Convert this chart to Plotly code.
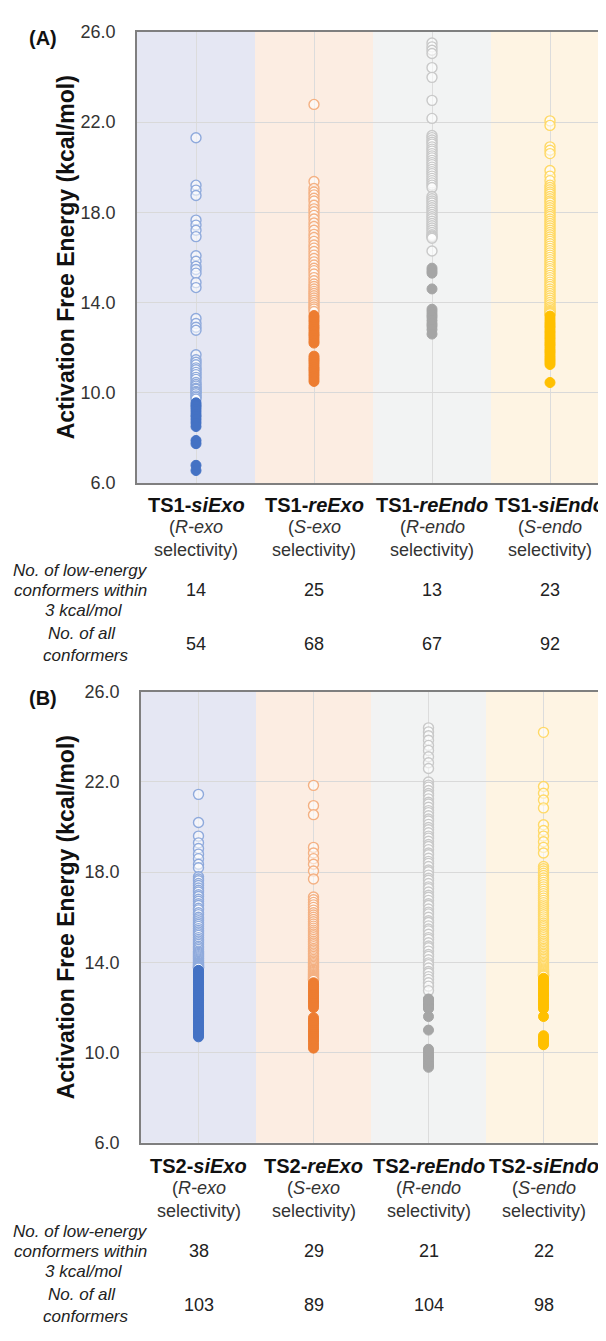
import plotly.graph_objects as go

# ---------------- data ----------------
categories_A = ["TS1-siExo", "TS1-reExo", "TS1-reEndo", "TS1-siEndo"]
categories_B = ["TS2-siExo", "TS2-reExo", "TS2-reEndo", "TS2-siEndo"]
selectivity = ["R-exo", "S-exo", "R-endo", "S-endo"]

low_counts_A = [14, 25, 13, 23]
all_counts_A = [54, 68, 67, 92]
low_counts_B = [38, 29, 21, 22]
all_counts_B = [103, 89, 104, 98]

y_ticks = [6.0, 10.0, 14.0, 18.0, 22.0, 26.0]

# Panel A (TS1) - filled = within 3 kcal/mol, open = others
A_siExo_low = [9.55, 9.45, 9.38, 9.27, 9.15, 9.02, 8.93, 8.8, 8.66, 8.5, 7.88, 7.74, 6.78, 6.55]
A_siExo_high = [21.3, 19.2, 18.98, 18.74, 17.65, 17.43, 17.2, 16.92, 16.07, 15.83, 15.6, 15.46,
                15.3, 14.88, 14.66, 13.29, 13.07, 12.9, 12.77, 11.68, 11.46, 11.35, 11.24, 11.1,
                11.02, 10.9, 10.8, 10.68, 10.59, 10.45, 10.36, 10.29, 10.2, 10.15, 10.06, 10.02,
                9.95, 9.86, 9.8, 9.72]
A_reExo_low = [13.42, 13.33, 13.22, 13.12, 13.0, 12.9, 12.81, 12.7, 12.6, 12.52, 12.41, 12.3, 12.2,
               11.62, 11.52, 11.44, 11.35, 11.25, 11.14, 11.05, 10.96, 10.85, 10.74, 10.62, 10.5]
A_reExo_high = [22.78, 19.36, 19.05, 18.9, 18.77, 18.62, 18.5, 18.31, 18.15, 18.02, 17.86, 17.7,
                17.52, 17.37, 17.2, 17.02, 16.88, 16.71, 16.55, 16.41, 16.26, 16.1, 15.95, 15.8,
                15.66, 15.52, 15.41, 15.26, 15.1, 14.96, 14.82, 14.71, 14.6, 14.49, 14.4, 14.3,
                14.2, 14.1, 14.0, 13.9, 13.8, 13.71, 13.6]
A_reEndo_low = [15.52, 15.41, 15.3, 14.6, 13.7, 13.58, 13.45, 13.34, 13.2, 13.06, 12.95, 12.8, 12.6]
A_reEndo_high = [25.5, 25.33, 25.18, 25.04, 24.41, 23.98, 22.96, 22.16, 21.4, 21.31, 21.2, 21.1,
                 21.02, 20.9, 20.8, 20.71, 20.6, 20.5, 20.41, 20.3, 20.2, 20.11, 20.0, 19.9, 19.8,
                 19.71, 19.6, 19.5, 19.4, 19.3, 19.2, 19.1, 18.7, 18.6, 18.5, 18.41, 18.3, 18.2,
                 18.1, 18.0, 17.9, 17.8, 17.71, 17.6, 17.5, 17.4, 17.3, 17.2, 17.1, 17.0, 16.95,
                 16.9, 16.85, 16.28]
A_siEndo_low = [13.4, 13.27, 13.15, 13.05, 12.95, 12.86, 12.75, 12.66, 12.55, 12.45, 12.36, 12.25,
                12.15, 12.06, 11.95, 11.85, 11.76, 11.65, 11.55, 11.45, 11.35, 11.25, 10.45]
A_siEndo_high = [22.05, 21.85, 20.9, 20.75, 20.6, 19.85, 19.6, 19.4, 19.2,
                 19.1, 19.0, 18.9, 18.81, 18.7, 18.6, 18.5, 18.42, 18.3, 18.2,
                 18.1, 18.0, 17.9, 17.81, 17.7, 17.6, 17.5, 17.4, 17.3, 17.2,
                 17.1, 17.0, 16.9, 16.8, 16.71, 16.6, 16.5, 16.4, 16.3, 16.2,
                 16.1, 16.0, 15.9, 15.8, 15.7, 15.6, 15.5, 15.41, 15.3, 15.2,
                 15.1, 15.0, 14.9, 14.8, 14.71, 14.6, 14.5, 14.4, 14.3, 14.2,
                 14.1, 14.0, 13.9, 13.8, 13.72, 13.65, 13.6, 13.56, 13.52, 13.5]

# Panel B (TS2)
B_siExo_low = [13.65, 13.58, 13.5, 13.41, 13.35, 13.26, 13.17, 13.1, 13.03, 12.94,
               12.85, 12.79, 12.7, 12.61, 12.55, 12.46, 12.37, 12.3, 12.23, 12.13,
               12.06, 11.97, 11.9, 11.83, 11.73, 11.66, 11.59, 11.5, 11.41, 11.35,
               11.25, 11.18, 11.11, 11.01, 10.95, 10.86, 10.77, 10.7]
B_siExo_high = [21.45, 20.2, 19.6, 19.3, 19.05, 18.8, 18.6, 18.35, 18.2,
                17.8, 17.7, 17.62, 17.5, 17.41, 17.3, 17.2, 17.12, 17.0, 16.92,
                16.8, 16.71, 16.6, 16.52, 16.4, 16.33, 16.2, 16.12, 16.0, 15.93,
                15.85, 15.76, 15.68, 15.6, 15.5, 15.42, 15.35, 15.27, 15.2, 15.1,
                15.02, 14.95, 14.87, 14.8, 14.72, 14.65, 14.58, 14.5, 14.45, 14.4,
                14.35, 14.3, 14.25, 14.2, 14.15, 14.1, 14.05, 14.0, 13.96, 13.92,
                13.88, 13.85, 13.82, 13.79, 13.77, 13.75]
B_reExo_low = [13.1, 13.0, 12.92, 12.85, 12.76, 12.68, 12.6, 12.52, 12.44, 12.36, 12.28, 12.2,
               12.1, 12.0, 11.55, 11.45, 11.36, 11.28, 11.2, 11.1, 11.0, 10.92, 10.83, 10.74,
               10.65, 10.55, 10.45, 10.33, 10.2]
B_reExo_high = [21.85, 20.95, 20.55, 19.1, 18.85, 18.6, 18.35, 18.05, 17.7,
                16.9, 16.78, 16.66, 16.55, 16.44, 16.32, 16.2, 16.1, 16.0, 15.9,
                15.8, 15.7, 15.61, 15.52, 15.43, 15.35, 15.26, 15.18, 15.1, 15.02,
                14.94, 14.86, 14.78, 14.7, 14.62, 14.55, 14.48, 14.41, 14.34, 14.27,
                14.2, 14.13, 14.06, 14.0, 13.94, 13.88, 13.82, 13.76, 13.7, 13.65,
                13.6, 13.55, 13.5, 13.46, 13.42, 13.38, 13.34, 13.3, 13.27, 13.24, 13.21]
B_reEndo_low = [9.35, 9.45, 9.55, 9.65, 9.75, 9.85, 9.95, 10.05, 10.15, 11.0, 11.6,
                11.95, 12.0, 12.05, 12.1, 12.15, 12.2, 12.25, 12.3, 12.35, 12.38]
B_reEndo_high = [24.4, 24.22, 24.05, 23.85, 23.62, 23.4, 23.12, 22.85, 22.6,
                 22.0, 21.86, 21.77, 21.62, 21.49, 21.4, 21.25, 21.1, 21.02, 20.88,
                 20.73, 20.64, 20.5, 20.36, 20.27, 20.12, 19.98, 19.88, 19.75, 19.6,
                 19.51, 19.37, 19.23, 19.14, 19.0, 18.85, 18.77, 18.62, 18.48, 18.39,
                 18.25, 18.1, 18.02, 17.87, 17.73, 17.64, 17.5, 17.35, 17.27, 17.12,
                 16.98, 16.89, 16.75, 16.6, 16.52, 16.37, 16.23, 16.15, 16.0, 15.85,
                 15.77, 15.62, 15.48, 15.4, 15.25, 15.1, 15.02, 14.87, 14.73, 14.65,
                 14.5, 14.35, 14.27, 14.12, 13.98, 13.9, 13.75, 13.6, 13.52, 13.37,
                 13.25, 13.1, 12.95, 12.75]
B_siEndo_low = [13.3, 13.2, 13.15, 13.08, 13.0, 12.9, 12.8, 12.7, 12.6, 12.55, 12.45, 12.35,
                12.25, 12.15, 12.05, 11.95, 11.6, 10.75, 10.65, 10.55, 10.45, 10.35]
B_siEndo_high = [24.2, 21.8, 21.5, 21.2, 20.85, 20.1, 19.85, 19.6, 19.35, 19.1, 18.85,
                 18.25, 18.15, 18.05, 17.95, 17.85, 17.74, 17.65, 17.55, 17.45, 17.35,
                 17.25, 17.15, 17.05, 16.95, 16.85, 16.75, 16.65, 16.55, 16.47, 16.38,
                 16.29, 16.2, 16.11, 16.02, 15.93, 15.84, 15.75, 15.66, 15.58, 15.5,
                 15.42, 15.34, 15.26, 15.18, 15.1, 15.02, 14.94, 14.86, 14.78, 14.7,
                 14.63, 14.56, 14.49, 14.42, 14.35, 14.28, 14.21, 14.14, 14.07, 14.0,
                 13.94, 13.88, 13.82, 13.76, 13.71, 13.66, 13.62, 13.58, 13.54, 13.5,
                 13.47, 13.45, 13.43, 13.41, 13.4]

low_A = [A_siExo_low, A_reExo_low, A_reEndo_low, A_siEndo_low]
high_A = [A_siExo_high, A_reExo_high, A_reEndo_high, A_siEndo_high]
low_B = [B_siExo_low, B_reExo_low, B_reEndo_low, B_siEndo_low]
high_B = [B_siExo_high, B_reExo_high, B_reEndo_high, B_siEndo_high]

# ---------------- style ----------------
PAGE_W, PAGE_H = 606, 1341
BODY = 8  # default page body margin
W, H = PAGE_W - BODY, PAGE_H - BODY
FONT = "Liberation Sans, Arial, sans-serif"
solid = ["#4472C4", "#ED7D31", "#A5A5A5", "#FFC000"]
light = ["#8FAADC", "#F4B183", "#C9C9C9", "#FFD966"]
bands = ["#E5E7F3", "#FCEDE2", "#F2F3F3", "#FEF4E3"]


def fx(px):
    return (px - BODY) / W


def fy(py):
    return 1 - (py - BODY) / H


fig = go.Figure()

for lows, highs, xa, ya in [(low_A, high_A, "x", "y"), (low_B, high_B, "x2", "y2")]:
    for i in range(4):
        fig.add_trace(go.Scatter(
            x=[i] * len(highs[i]), y=highs[i], mode="markers", xaxis=xa, yaxis=ya,
            showlegend=False, hoverinfo="y",
            marker=dict(size=10, color="rgba(255,255,255,0.55)",
                        line=dict(color=light[i], width=1.4))))
        fig.add_trace(go.Scatter(
            x=[i] * len(lows[i]), y=lows[i], mode="markers", xaxis=xa, yaxis=ya,
            showlegend=False, hoverinfo="y",
            marker=dict(size=10, color=solid[i], line=dict(color=solid[i], width=1))))

shapes = []
for xa, ya in [("x", "y"), ("x2", "y2")]:
    for i in range(4):
        shapes.append(dict(type="rect", xref=xa, yref=ya + " domain",
                           x0=i - 0.5, x1=i + 0.5, y0=0, y1=1, fillcolor=bands[i],
                           line=dict(width=0), layer="below"))

yaxis_common = dict(range=[6, 26], tickvals=y_ticks, tickformat=".1f", showgrid=True,
                    gridcolor="#D9D9D9", gridwidth=1, showline=True, linecolor="#7F7F7F",
                    linewidth=1.5, ticks="", ticklabelstandoff=16,
                    tickfont=dict(family=FONT, size=18, color="#333333"), zeroline=False)
xaxis_common = dict(tickvals=[0, 1, 2, 3], showticklabels=False, showgrid=True,
                    gridcolor="#DCDCDC", gridwidth=1, showline=True, linecolor="#7F7F7F",
                    linewidth=1.5, ticks="", zeroline=False, mirror=True)

bandA = 118.0
fig.update_layout(
    width=W, height=H, margin=dict(l=0, r=0, t=0, b=0),
    paper_bgcolor="white", plot_bgcolor="white",
    font=dict(family=FONT, size=18, color="#222222"),
    shapes=shapes,
    xaxis=dict(domain=[fx(137), 1], range=[-0.5, -0.5 + (PAGE_W - 137) / bandA], anchor="y", **xaxis_common),
    yaxis=dict(domain=[fy(480), fy(22)], anchor="x", mirror=False, **yaxis_common),
    xaxis2=dict(domain=[fx(141), fx(601)], range=[-0.5, 3.5], anchor="y2", **xaxis_common),
    yaxis2=dict(domain=[fy(1150), fy(692)], anchor="x2", mirror=True, **yaxis_common),
)

ann = []


def text(x, y, s, size=18, xref="paper", angle=0, color="#222222"):
    ann.append(dict(x=x if xref != "paper" else fx(x), y=fy(y), xref=xref, yref="paper",
                    text=s, showarrow=False, xanchor="center", yanchor="middle",
                    textangle=angle, font=dict(family=FONT, size=size, color=color)))


panels = [
    ("(A)", 28, 251, "x", categories_A, low_counts_A, all_counts_A, 0),
    ("(B)", 698, 921, "x2", categories_B, low_counts_B, all_counts_B, 671),
]
for label, ylab, ymid, xr, cats, lows_c, alls_c, off in panels:
    text(43, ylab, "<b>" + label + "</b>", size=20, color="#111111")
    text(66, ymid, "<b>Activation Free Energy (kcal/mol)</b>", size=23, angle=-90, color="#111111")
    for i in range(4):
        pre, post = cats[i].split("-")
        text(i, 502 + off, "<b>" + pre + "-<i>" + post + "</i></b>", size=20, xref=xr, color="#111111")
        text(i, 525 + off, "(<i>" + selectivity[i] + "</i>", size=18, xref=xr, color="#333333")
        text(i, 548 + off, "selectivity)", size=18, xref=xr, color="#333333")
        text(i, 589 + off, str(lows_c[i]), size=18, xref=xr, color="#222222")
        text(i, 644 + off, str(alls_c[i]), size=18, xref=xr, color="#222222")
    text(80, 569 + off, "<i>No. of low-energy</i>", size=17, color="#222222")
    text(80, 589 + off, "<i>conformers within</i>", size=17, color="#222222")
    text(84, 610 + off, "<i>3 kcal/mol</i>", size=17, color="#222222")
    text(82, 633 + off, "<i>No. of all</i>", size=17, color="#222222")
    text(86, 655 + off, "<i>conformers</i>", size=17, color="#222222")

fig.update_layout(annotations=ann)
fig.write_html("out.html")
